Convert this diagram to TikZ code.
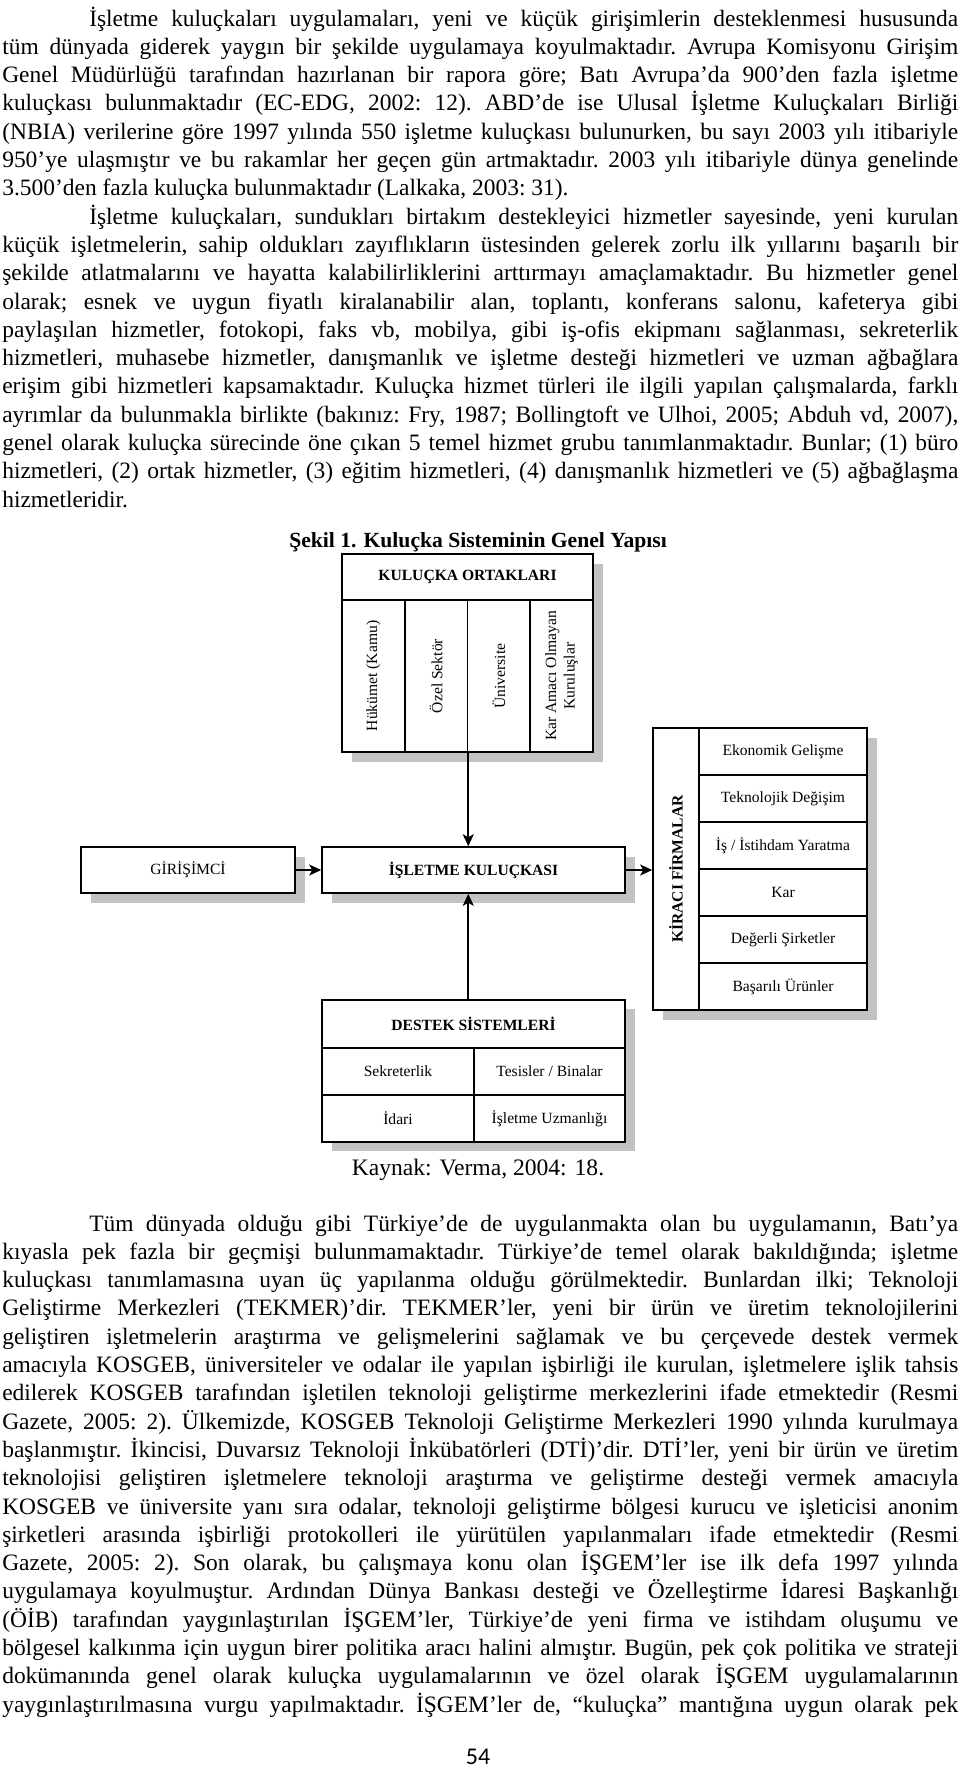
\documentclass[tikz,border=0pt]{standalone}
\usepackage{graphicx}
\usepackage{fontspec}
\setmainfont{Liberation Serif}
\newfontfamily\pagenumfont{Carlito}
\usetikzlibrary{arrows.meta}
\definecolor{shadowgray}{gray}{0.76}
\newlength\PX \setlength\PX{0.75pt}
\newlength\LW
\newsavebox\lbox
\newcommand\jline[2]{\hbox{\kern#1\PX\setlength\LW{\dimexpr956\PX-#1\PX\relax}\sbox\lbox{#2}%
  \ifdim\wd\lbox>\LW\resizebox{\LW}{\height}{\usebox\lbox}\else\makebox[\LW][s]{#2}\fi}}
\newcommand\lline[1]{\hbox{#1}}
\newcommand\parsetup{\frenchspacing\baselineskip=28.3\PX\lineskip=0pt\lineskiplimit=-1000pt}
\begin{document}
\begin{tikzpicture}[x=0.75pt,y=-0.75pt,
  box/.style 2 args={draw, line width=1.2pt, fill=white, inner sep=0pt, minimum width=#1\PX, minimum height=#2\PX},
  lbl/.style={font=\fontsize{11.7pt}{14pt}\selectfont, inner sep=0pt, align=center},
  hdr/.style={font=\fontsize{11.7pt}{14pt}\selectfont\bfseries, inner sep=0pt, align=center},
  arr/.style={line width=1.2pt, -{Stealth[length=9pt, width=8.25pt, inset=2.25pt]}},
  shd/.style={fill=shadowgray},
  body/.style={anchor=base west, inner sep=0pt, font=\fontsize{17.6pt}{20pt}\selectfont}
]
\fill[white] (0,0) rectangle (960,1768);
\useasboundingbox (0,0) rectangle (960,1768);

% ---------- body text, paragraph 1 ----------
\node[body] (p1) at (2,26) {\vtop{\parsetup
\jline{87}{İşletme kuluçkaları uygulamaları, yeni ve küçük girişimlerin desteklenmesi hususunda}
\jline{0}{tüm dünyada giderek yaygın bir şekilde uygulamaya koyulmaktadır. Avrupa Komisyonu Girişim}
\jline{0}{Genel Müdürlüğü tarafından hazırlanan bir rapora göre; Batı Avrupa’da 900’den fazla işletme}
\jline{0}{kuluçkası bulunmaktadır (EC-EDG, 2002: 12). ABD’de ise Ulusal İşletme Kuluçkaları Birliği}
\jline{0}{(NBIA) verilerine göre 1997 yılında 550 işletme kuluçkası bulunurken, bu sayı 2003 yılı itibariyle}
\jline{0}{950’ye ulaşmıştır ve bu rakamlar her geçen gün artmaktadır. 2003 yılı itibariyle dünya genelinde}
\lline{3.500’den fazla kuluçka bulunmaktadır (Lalkaka, 2003: 31).}}};

% ---------- paragraph 2 ----------
\node[body] (p2) at (2,224.1) {\vtop{\parsetup
\jline{87}{İşletme kuluçkaları, sundukları birtakım destekleyici hizmetler sayesinde, yeni kurulan}
\jline{0}{küçük işletmelerin, sahip oldukları zayıflıkların üstesinden gelerek zorlu ilk yıllarını başarılı bir}
\jline{0}{şekilde atlatmalarını ve hayatta kalabilirliklerini arttırmayı amaçlamaktadır. Bu hizmetler genel}
\jline{0}{olarak; esnek ve uygun fiyatlı kiralanabilir alan, toplantı, konferans salonu, kafeterya gibi}
\jline{0}{paylaşılan hizmetler, fotokopi, faks vb, mobilya, gibi iş-ofis ekipmanı sağlanması, sekreterlik}
\jline{0}{hizmetleri, muhasebe hizmetler, danışmanlık ve işletme desteği hizmetleri ve uzman ağbağlara}
\jline{0}{erişim gibi hizmetleri kapsamaktadır. Kuluçka hizmet türleri ile ilgili yapılan çalışmalarda, farklı}
\jline{0}{ayrımlar da bulunmakla birlikte (bakınız: Fry, 1987; Bollingtoft ve Ulhoi, 2005; Abduh vd, 2007),}
\jline{0}{genel olarak kuluçka sürecinde öne çıkan 5 temel hizmet grubu tanımlanmaktadır. Bunlar; (1) büro}
\jline{0}{hizmetleri, (2) ortak hizmetler, (3) eğitim hizmetleri, (4) danışmanlık hizmetleri ve (5) ağbağlaşma}
\lline{hizmetleridir.}}};

% ---------- figure title ----------
\node[font=\fontsize{16.2pt}{18pt}\selectfont\bfseries, inner sep=0pt] (title) at (478,542) {Şekil 1. Kuluçka Sisteminin Genel Yapısı};

% ---------- shadows ----------
\fill[shd] (352,564) rectangle (603,762);
\fill[shd] (91,857) rectangle (305,903);
\fill[shd] (332,857) rectangle (635,903);
\fill[shd] (663,738) rectangle (877,1020);
\fill[shd] (332,1009) rectangle (635,1151);

% ---------- KULUÇKA ORTAKLARI ----------
\node[box={251}{46}, hdr] (orth) at (467.5,577) {KULUÇKA ORTAKLARI};
\node[box={62.75}{152}] (c1) at (373.4,676) {};
\node[box={62.75}{152}] (c2) at (436.1,676) {};
\node[box={62.75}{152}] (c3) at (498.9,676) {};
\node[box={62.75}{152}] (c4) at (561.6,676) {};
\node[lbl, rotate=90] (c1t) at (c1) {Hükümet (Kamu)};
\node[lbl, rotate=90] (c2t) at (c2) {Özel Sektör};
\node[lbl, rotate=90] (c3t) at (c3) {Üniversite};
\node[lbl, rotate=90] (c4t) at (c4) {Kar Amacı Olmayan\\Kuruluşlar};

% ---------- middle row ----------
\node[box={214}{46}, lbl] (gir) at (188,870) {GİRİŞİMCİ};
\node[box={303}{46}, hdr] (kul) at (473.5,870) {İŞLETME KULUÇKASI};

% ---------- KİRACI FİRMALAR ----------
\node[box={46}{282}] (kirl) at (676,869) {};
\node[hdr, rotate=90] (kirt) at (kirl) {KİRACI FİRMALAR};
\node[box={168}{47}, lbl] (r1) at (783,751.5) {Ekonomik Gelişme};
\node[box={168}{47}, lbl] (r2) at (783,798.5) {Teknolojik Değişim};
\node[box={168}{47}, lbl] (r3) at (783,845.5) {İş / İstihdam Yaratma};
\node[box={168}{47}, lbl] (r4) at (783,892.5) {Kar};
\node[box={168}{47}, lbl] (r5) at (783,939.5) {Değerli Şirketler};
\node[box={168}{47}, lbl] (r6) at (783,986.5) {Başarılı Ürünler};

% ---------- DESTEK SİSTEMLERİ ----------
\node[box={303}{48}, hdr] (desh) at (473.5,1024) {DESTEK SİSTEMLERİ};
\node[box={152}{47}, lbl] (d1) at (398,1071.5) {Sekreterlik};
\node[box={151}{47}, lbl] (d2) at (549.5,1071.5) {Tesisler / Binalar};
\node[box={152}{47}, lbl] (d3) at (398,1118.5) {İdari};
\node[box={151}{47}, lbl] (d4) at (549.5,1118.5) {İşletme Uzmanlığı};

% ---------- connectors ----------
\draw[arr] (c2.south east) -- (c2.south east |- kul.north);
\draw[arr] (desh.north -| c2.south east) -- (kul.south -| c2.south east);
\draw[arr] (gir.east) -- (kul.west);
\draw[arr] (kul.east) -- (kul.east -| kirl.west);

% ---------- source ----------
\node[font=\fontsize{17.7pt}{20pt}\selectfont, inner sep=0pt] (src) at (478,1170) {Kaynak: Verma, 2004: 18.};

% ---------- paragraph 3 ----------
\node[body] (p3) at (2,1231) {\vtop{\parsetup
\jline{87}{Tüm dünyada olduğu gibi Türkiye’de de uygulanmakta olan bu uygulamanın, Batı’ya}
\jline{0}{kıyasla pek fazla bir geçmişi bulunmamaktadır. Türkiye’de temel olarak bakıldığında; işletme}
\jline{0}{kuluçkası tanımlamasına uyan üç yapılanma olduğu görülmektedir. Bunlardan ilki; Teknoloji}
\jline{0}{Geliştirme Merkezleri (TEKMER)’dir. TEKMER’ler, yeni bir ürün ve üretim teknolojilerini}
\jline{0}{geliştiren işletmelerin araştırma ve gelişmelerini sağlamak ve bu çerçevede destek vermek}
\jline{0}{amacıyla KOSGEB, üniversiteler ve odalar ile yapılan işbirliği ile kurulan, işletmelere işlik tahsis}
\jline{0}{edilerek KOSGEB tarafından işletilen teknoloji geliştirme merkezlerini ifade etmektedir (Resmi}
\jline{0}{Gazete, 2005: 2). Ülkemizde, KOSGEB Teknoloji Geliştirme Merkezleri 1990 yılında kurulmaya}
\jline{0}{başlanmıştır. İkincisi, Duvarsız Teknoloji İnkübatörleri (DTİ)’dir. DTİ’ler, yeni bir ürün ve üretim}
\jline{0}{teknolojisi geliştiren işletmelere teknoloji araştırma ve geliştirme desteği vermek amacıyla}
\jline{0}{KOSGEB ve üniversite yanı sıra odalar, teknoloji geliştirme bölgesi kurucu ve işleticisi anonim}
\jline{0}{şirketleri arasında işbirliği protokolleri ile yürütülen yapılanmaları ifade etmektedir (Resmi}
\jline{0}{Gazete, 2005: 2). Son olarak, bu çalışmaya konu olan İŞGEM’ler ise ilk defa 1997 yılında}
\jline{0}{uygulamaya koyulmuştur. Ardından Dünya Bankası desteği ve Özelleştirme İdaresi Başkanlığı}
\jline{0}{(ÖİB) tarafından yaygınlaştırılan İŞGEM’ler, Türkiye’de yeni firma ve istihdam oluşumu ve}
\jline{0}{bölgesel kalkınma için uygun birer politika aracı halini almıştır. Bugün, pek çok politika ve strateji}
\jline{0}{dokümanında genel olarak kuluçka uygulamalarının ve özel olarak İŞGEM uygulamalarının}
\jline{0}{yaygınlaştırılmasına vurgu yapılmaktadır. İŞGEM’ler de, “kuluçka” mantığına uygun olarak pek}}};

% ---------- page number ----------
\node[font=\pagenumfont\fontsize{18pt}{20pt}\selectfont, inner sep=0pt] (pg) at (478,1757) {54};
\end{tikzpicture}
\end{document}
